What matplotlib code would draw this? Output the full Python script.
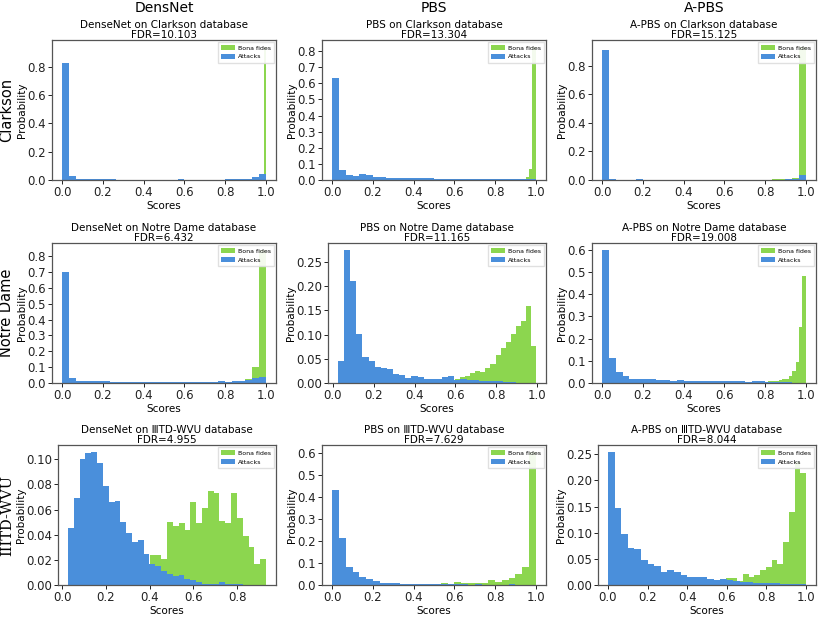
import numpy as np
import matplotlib
matplotlib.use('Agg')
import matplotlib.pyplot as plt
from matplotlib.ticker import FormatStrFormatter

# colours used for both classes
green = '#8cd64f'
blue = '#4a8fdb'

methods = ['DensNet', 'PBS', 'A-PBS']
method_titles = ['DenseNet', 'PBS', 'A-PBS']
databases = ['Clarkson', 'Notre Dame', 'IIITD-WVU']
db_titles = ['Clarkson', 'Notre Dame', 'ⅢTD-WVU']
fdr = [['10.103', '13.304', '15.125'],
       ['6.432', '11.165', '19.008'],
       ['4.955', '7.629', '8.044']]

# ---- Clarkson ----
clk_dn_att_range = (0.0, 1.0)
clk_dn_att = [0.825, 0.025, 0.008, 0.007, 0.006, 0.005, 0.004, 0.004, 0.003, 0.003,
              0.003, 0.003, 0.003, 0.003, 0.002, 0.003, 0.003, 0.005, 0.003, 0.003,
              0.003, 0.003, 0.003, 0.003, 0.004, 0.005, 0.006, 0.010, 0.018, 0.045]
clk_dn_bona_range = (0.78, 1.0)
clk_dn_bona = [0.0]*20 + [0.001, 0.001, 0.001, 0.002, 0.002, 0.003, 0.004, 0.006, 0.02, 0.94]

clk_pbs_att_range = (0.0, 1.0)
clk_pbs_att = [0.63, 0.06, 0.03, 0.025, 0.038, 0.03, 0.018, 0.02, 0.015, 0.012,
               0.015, 0.010, 0.010, 0.013, 0.010, 0.008, 0.007, 0.007, 0.006, 0.006,
               0.005, 0.005, 0.005, 0.006, 0.006, 0.005, 0.005, 0.005, 0.005, 0.005]
clk_pbs_bona_range = (0.5, 1.0)
clk_pbs_bona = [0.0]*20 + [0.001, 0.001, 0.001, 0.001, 0.002, 0.002, 0.003, 0.02, 0.07, 0.827]

clk_apbs_att_range = (0.0, 1.0)
clk_apbs_att = [0.91, 0.008, 0.003, 0.003, 0.002, 0.006, 0.002, 0.002, 0.002, 0.002,
                0.002, 0.002, 0.002, 0.002, 0.002, 0.002, 0.002, 0.002, 0.002, 0.002,
                0.002, 0.002, 0.002, 0.002, 0.002, 0.002, 0.003, 0.005, 0.006, 0.033]
clk_apbs_bona_range = (0.0, 1.0)
clk_apbs_bona = [0.0]*15 + [0.001, 0.001, 0.001, 0.001, 0.001, 0.002, 0.002, 0.002, 0.002,
                            0.003, 0.005, 0.007, 0.010, 0.012, 0.933]

# ---- Notre Dame ----
nd_dn_att_range = (0.0, 1.0)
nd_dn_att = [0.70, 0.03, 0.015, 0.012, 0.010, 0.010, 0.010, 0.008, 0.007, 0.006,
             0.006, 0.006, 0.007, 0.006, 0.005, 0.005, 0.007, 0.006, 0.006, 0.006,
             0.005, 0.005, 0.007, 0.010, 0.008, 0.010, 0.015, 0.020, 0.030, 0.040]
nd_dn_bona_range = (0.0, 1.0)
nd_dn_bona = [0.0]*20 + [0.001, 0.001, 0.001, 0.002, 0.002, 0.003, 0.010, 0.025, 0.10, 0.84]

nd_pbs_att_range = (0.025, 0.925)
nd_pbs_att = [0.045, 0.275, 0.21, 0.102, 0.053, 0.045, 0.034, 0.031, 0.028, 0.018,
              0.016, 0.011, 0.014, 0.012, 0.009, 0.008, 0.009, 0.012, 0.014, 0.006,
              0.008, 0.006, 0.006, 0.005, 0.005, 0.004, 0.004, 0.003, 0.002, 0.001]
nd_pbs_bona_range = (0.25, 0.995)
nd_pbs_bona = [0.001, 0.001, 0.001, 0.002, 0.002, 0.002, 0.003, 0.003, 0.003, 0.004,
               0.004, 0.005, 0.005, 0.006, 0.008, 0.012, 0.015, 0.020, 0.025, 0.022,
               0.030, 0.040, 0.058, 0.072, 0.085, 0.102, 0.118, 0.127, 0.158, 0.077]

nd_apbs_att_range = (0.0, 1.0)
nd_apbs_att = [0.60, 0.112, 0.05, 0.03, 0.02, 0.018, 0.018, 0.017, 0.015, 0.013,
               0.011, 0.012, 0.010, 0.010, 0.011, 0.009, 0.008, 0.008, 0.008, 0.008,
               0.007, 0.006, 0.007, 0.007, 0.005, 0.004, 0.004, 0.003, 0.002, 0.001]
nd_apbs_bona_range = (0.5, 1.0)
nd_apbs_bona = [0.0]*10 + [0.001, 0.001, 0.002, 0.002, 0.003, 0.003, 0.004, 0.005, 0.006, 0.008,
                           0.008, 0.010, 0.013, 0.016, 0.020, 0.032, 0.052, 0.095, 0.25, 0.48]

# ---- IIITD-WVU ----
iw_dn_att_range = (0.026, 0.826)
iw_dn_att = [0.045, 0.069, 0.100, 0.105, 0.106, 0.097, 0.079, 0.066, 0.067, 0.050,
             0.041, 0.034, 0.036, 0.025, 0.017, 0.015, 0.011, 0.009, 0.007, 0.008,
             0.005, 0.004, 0.002, 0.001, 0.001, 0.001, 0.002, 0.001, 0.001, 0.001]
iw_dn_bona_range = (0.133, 0.933)
iw_dn_bona = [0.001, 0.001, 0.002, 0.003, 0.004, 0.005, 0.006, 0.008, 0.010, 0.015,
              0.024, 0.024, 0.021, 0.050, 0.047, 0.049, 0.044, 0.066, 0.049, 0.061,
              0.075, 0.073, 0.051, 0.049, 0.073, 0.053, 0.039, 0.030, 0.017, 0.021]

iw_pbs_att_range = (0.0, 1.0)
iw_pbs_att = [0.43, 0.215, 0.08, 0.058, 0.038, 0.025, 0.020, 0.010, 0.008, 0.007,
              0.006, 0.006, 0.006, 0.005, 0.004, 0.004, 0.003, 0.003, 0.003, 0.003,
              0.002, 0.003, 0.002, 0.002, 0.002, 0.002, 0.003, 0.002, 0.002, 0.001]
iw_pbs_bona_range = (0.0, 1.0)
iw_pbs_bona = [0.0]*10 + [0.001, 0.001, 0.002, 0.002, 0.003,
                          0.004, 0.008, 0.006, 0.012, 0.008, 0.010, 0.009, 0.010, 0.022, 0.015,
                          0.024, 0.030, 0.050, 0.082, 0.605]

iw_apbs_att_range = (0.0, 1.0)
iw_apbs_att = [0.255, 0.148, 0.097, 0.071, 0.068, 0.047, 0.041, 0.037, 0.025, 0.028,
               0.024, 0.020, 0.016, 0.016, 0.015, 0.012, 0.010, 0.012, 0.010, 0.008,
               0.006, 0.005, 0.004, 0.004, 0.003, 0.003, 0.002, 0.002, 0.002, 0.001]
iw_apbs_bona_range = (0.13, 1.0)
iw_apbs_bona = [0.001, 0.001, 0.001, 0.002, 0.002, 0.002, 0.003, 0.003, 0.004, 0.004,
                0.005, 0.005, 0.006, 0.007, 0.008, 0.009,
                0.013, 0.013, 0.008, 0.021, 0.016, 0.020, 0.028, 0.034, 0.048, 0.041,
                0.083, 0.140, 0.235, 0.215]

panels = [
    [(clk_dn_bona_range, clk_dn_bona, clk_dn_att_range, clk_dn_att),
     (clk_pbs_bona_range, clk_pbs_bona, clk_pbs_att_range, clk_pbs_att),
     (clk_apbs_bona_range, clk_apbs_bona, clk_apbs_att_range, clk_apbs_att)],
    [(nd_dn_bona_range, nd_dn_bona, nd_dn_att_range, nd_dn_att),
     (nd_pbs_bona_range, nd_pbs_bona, nd_pbs_att_range, nd_pbs_att),
     (nd_apbs_bona_range, nd_apbs_bona, nd_apbs_att_range, nd_apbs_att)],
    [(iw_dn_bona_range, iw_dn_bona, iw_dn_att_range, iw_dn_att),
     (iw_pbs_bona_range, iw_pbs_bona, iw_pbs_att_range, iw_pbs_att),
     (iw_apbs_bona_range, iw_apbs_bona, iw_apbs_att_range, iw_apbs_att)],
]

ytick_steps = [[0.2, 0.1, 0.2], [0.1, 0.05, 0.1], [0.02, 0.1, 0.05]]


def draw_hist(ax, rng, heights, color, label):
    heights = np.asarray(heights)
    edges = np.linspace(rng[0], rng[1], len(heights) + 1)
    centers = (edges[:-1] + edges[1:]) / 2
    ax.hist(centers, bins=edges, weights=heights, histtype='stepfilled',
            color=color, label=label)


fig = plt.figure(figsize=(8.22, 6.18), dpi=100)

lefts = [52, 322, 592]
tops = [40, 243, 445]
W, H = 224, 140
FW, FH = 822, 618

for r in range(3):
    for c in range(3):
        step = ytick_steps[r][c]
        two_dec = step in (0.02, 0.05)
        shift = 6 if two_dec else 0
        ax = fig.add_axes([(lefts[c] + shift) / FW, 1 - (tops[r] + H) / FH,
                           (W - shift) / FW, H / FH])
        bona_rng, bona, att_rng, att = panels[r][c]
        draw_hist(ax, bona_rng, bona, green, 'Bona fides')
        draw_hist(ax, att_rng, att, blue, 'Attacks')
        ax.set_title(method_titles[c] + ' on ' + db_titles[r] + ' database\nFDR=' + fdr[r][c],
                     fontsize=7.5, pad=1.5, linespacing=1.0)
        ax.set_xlabel('Scores', fontsize=7.5, labelpad=1)
        ax.set_ylabel('Probability', fontsize=7.5, labelpad=0)
        ymax = ax.get_ylim()[1]
        ax.set_yticks(np.arange(0, ymax + 1e-9, step))
        ax.yaxis.set_major_formatter(FormatStrFormatter('%.2f' if two_dec else '%.1f'))
        if r == 2 and c == 0:
            ax.set_xticks([0.0, 0.2, 0.4, 0.6, 0.8])
        else:
            ax.set_xticks([0.0, 0.2, 0.4, 0.6, 0.8, 1.0])
        ax.xaxis.set_major_formatter(FormatStrFormatter('%.1f'))
        ax.tick_params(labelsize=8.5, length=3, width=0.7, pad=1.5, colors='#222222')
        for sp in ax.spines.values():
            sp.set_color('#555555')
            sp.set_linewidth(0.9)
        ax.legend(loc='upper right', fontsize=4.5, handlelength=2.2, handletextpad=0.45,
                  borderpad=0.55, labelspacing=0.55, borderaxespad=0.3, fancybox=False,
                  framealpha=0.9, edgecolor='#dddddd')

col_centers = [(l + W / 2) / FW for l in lefts]
for c in range(3):
    fig.text(col_centers[c], 1 - 0.5 / FH, methods[c], ha='center', va='top', fontsize=10)

row_fonts = ['DejaVu Sans', 'DejaVu Sans', 'DejaVu Serif']
for r in range(3):
    fig.text(7 / FW, 1 - (tops[r] + H / 2) / FH, databases[r], rotation=90,
             ha='center', va='center', fontsize=10.5, family=row_fonts[r])

fig.savefig('out.png', dpi=100)
